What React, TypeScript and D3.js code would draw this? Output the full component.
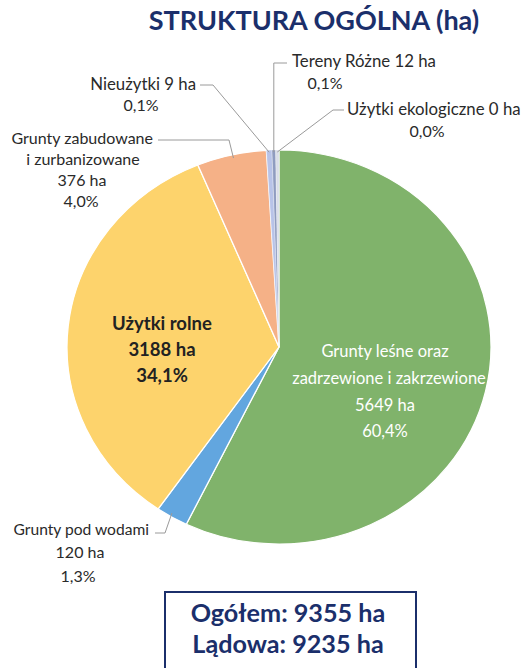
import React from "react";
import * as d3 from "d3";

const categories = [
  "Grunty leśne oraz zadrzewione i zakrzewione",
  "Grunty pod wodami",
  "Użytki rolne",
  "Grunty zabudowane i zurbanizowane",
  "Nieużytki",
  "Tereny Różne",
  "Użytki ekologiczne",
];
const valuesHa = [5649, 120, 3188, 376, 9, 12, 0];
const percentLabels = ["60,4%", "1,3%", "34,1%", "4,0%", "0,1%", "0,1%", "0,0%"];
// slice sizes as they are drawn in the picture (percent of the circle)
const sliceShares = [57.2, 2.45, 34.1, 5.3, 0.42, 0.28, 0.25];
const colors = ["#80b36b", "#62a6df", "#fdd36c", "#f5b187", "#b8c3e8", "#8f9cc0", "#d9dde8"];
const totalLabel = "Ogółem: 9355 ha";
const landLabel = "Lądowa: 9235 ha";
const title = "STRUKTURA OGÓLNA (ha)";

const W = 528, H = 668;
const cx = 279, cy = 347, rx = 212, ry = 197;
const navy = "#1b2f6b";
const FONT = "Lato, 'Noto Sans', sans-serif";

export default function App() {
  const pie = d3.pie<number>().sort(null).value((d) => d)(sliceShares);
  const arc = d3.arc<d3.PieArcDatum<number>>().innerRadius(0).outerRadius(ry);
  const edge = (i: number) => {
    const a = (pie[i].startAngle + pie[i].endAngle) / 2;
    return [cx + rx * Math.sin(a), cy - ry * Math.cos(a)];
  };
  const eNie = edge(4), eTer = edge(5), eEko = edge(6), eZab = edge(3), eWod = edge(1);
  const line = "#9a9a9a";
  const T = (x: number, y: number, s: string, anchor = "middle", fs = 16) => (
    <text x={x} y={y} textAnchor={anchor as any} fontSize={fs} fill="#2a2a2a" fontFamily={FONT}>{s}</text>
  );
  return (
    <svg width={W} height={H} style={{ position: "absolute", left: 0, top: 0, background: "#fff" }}>
      <text x={314} y={30} textAnchor="middle" fontSize={27} fontWeight={700} fill={navy} fontFamily={FONT}>
        {title}
      </text>
      <g transform={`translate(${cx},${cy}) scale(${rx / ry},1)`}>
        {pie.map((p, i) => (
          <path key={i} d={arc(p) || ""} fill={colors[i]} stroke="#fff" strokeWidth={i >= 4 ? 0.3 : 1.2} />
        ))}
      </g>
      {/* leader lines */}
      <polyline points={`${eTer[0]},${eTer[1] + 2} ${eTer[0]},63 287,63`} fill="none" stroke={line} strokeWidth={1} />
      <polyline points={`${eNie[0]},${eNie[1] + 2} 213,85 200,85`} fill="none" stroke={line} strokeWidth={1} />
      <polyline points={`${eEko[0]},${eEko[1] + 2} 333,110 344,110`} fill="none" stroke={line} strokeWidth={1} />
      <polyline points={`${eZab[0] + 2},${eZab[1] + 3} 229,140 158,140`} fill="none" stroke={line} strokeWidth={1} />
      <polyline points={`${eWod[0]},${eWod[1] - 4} 165,533 155,533`} fill="none" stroke={line} strokeWidth={1} />

      {T(292, 67, `${categories[5]} ${valuesHa[5]} ha`, "start", 16.8)}
      {T(325, 89, percentLabels[5])}
      {T(196, 90, `${categories[4]} ${valuesHa[4]} ha`, "end", 16.8)}
      {T(141, 111, percentLabels[4])}
      {T(347, 115, `${categories[6]} ${valuesHa[6]} ha`, "start", 16.8)}
      {T(427, 137, percentLabels[6])}
      {T(153, 144, "Grunty zabudowane", "end")}
      {T(83, 165, "i zurbanizowane")}
      {T(82, 186, `${valuesHa[3]} ha`)}
      {T(81, 207, percentLabels[3])}
      {T(149, 535, categories[1], "end", 15.6)}
      {T(80, 558, `${valuesHa[1]} ha`)}
      {T(78, 582, percentLabels[1])}

      <g fontFamily={FONT} fontWeight={700} fontSize={18.5} fill="#222" textAnchor="middle">
        <text x={162} y={330}>{categories[2]}</text>
        <text x={162} y={356}>{valuesHa[2]} ha</text>
        <text x={162} y={382}>{percentLabels[2]}</text>
      </g>
      <g fontFamily={FONT} fontSize={16.5} fill="#fff" textAnchor="middle">
        <text x={385} y={357}>Grunty leśne oraz</text>
        <text x={389} y={384}>zadrzewione i zakrzewione</text>
        <text x={385} y={411}>{valuesHa[0]} ha</text>
        <text x={385} y={437}>{percentLabels[0]}</text>
      </g>
      <rect x={165} y={592} width={251} height={90} fill="#fff" stroke={navy} strokeWidth={2} />
      <g fontFamily={FONT} fontWeight={700} fontSize={25.2} fill={navy} textAnchor="middle">
        <text x={288} y={622}>{totalLabel}</text>
        <text x={288} y={653}>{landLabel}</text>
      </g>
    </svg>
  );
}
